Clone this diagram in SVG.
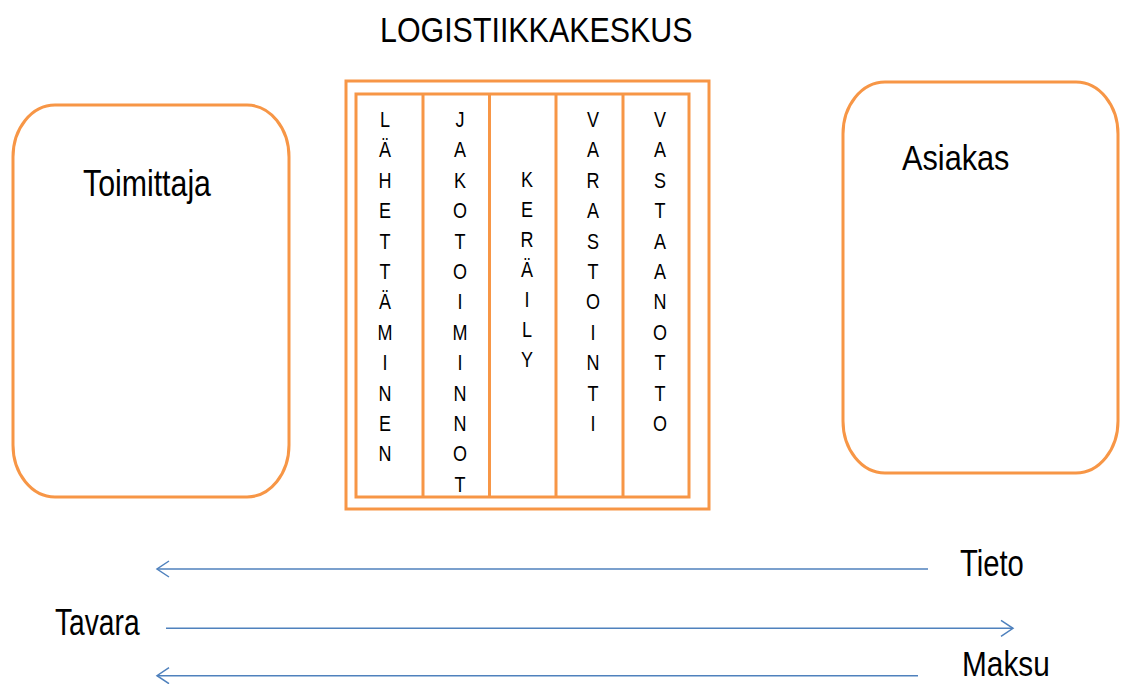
<svg xmlns="http://www.w3.org/2000/svg" width="1122" height="684" viewBox="0 0 1122 684">
<style>
.box{fill:#fff;stroke:#F79646;stroke-width:3}
.ln{fill:none;stroke:#F79646;stroke-width:3}
.t{font-family:"Liberation Sans",Arial,sans-serif;fill:#000}
.v{font-family:"Liberation Sans",Arial,sans-serif;font-size:18px;fill:#000;text-anchor:middle}
.arr{fill:none;stroke:#4F81BD;stroke-width:1.5}
</style>
<defs>
<marker id="ah" markerUnits="userSpaceOnUse" markerWidth="16" markerHeight="20" refX="13" refY="9" orient="auto" viewBox="0 0 16 20">
<path d="M1,1 L13,9 L1,17" fill="none" stroke="#4F81BD" stroke-width="1.5"/>
</marker>
</defs>
<rect width="1122" height="684" fill="#fff"/>
<g id="title"><text class="t" font-size="30.4" transform="translate(380,41.7) scale(1,1.15)">LOGISTIIKKAKESKUS</text></g>
<g id="toimittaja">
<rect class="box" x="13" y="105" width="276" height="392" rx="42" ry="52"/>
<text class="t" font-size="30.3" transform="translate(83,196) scale(1,1.24)">Toimittaja</text>
</g>
<g id="asiakas">
<rect class="box" x="843" y="82" width="275" height="391" rx="42" ry="52"/>
<text class="t" font-size="30.7" transform="translate(902,170) scale(1,1.16)">Asiakas</text>
</g>
<g id="logistiikkakeskus">
<rect class="box" x="346" y="81" width="363" height="428"/>
<rect class="box" x="356" y="94" width="333" height="403"/>
<line class="ln" x1="423" y1="94" x2="423" y2="497"/>
<line class="ln" x1="489.5" y1="94" x2="489.5" y2="497"/>
<line class="ln" x1="556" y1="94" x2="556" y2="497"/>
<line class="ln" x1="623" y1="94" x2="623" y2="497"/>
</g>
<g id="col1">
<text class="v" transform="translate(385,127) scale(1,1.25)">L</text>
<text class="v" transform="translate(385,157.4) scale(1,1.25)">Ä</text>
<text class="v" transform="translate(385,187.8) scale(1,1.25)">H</text>
<text class="v" transform="translate(385,218.2) scale(1,1.25)">E</text>
<text class="v" transform="translate(385,248.6) scale(1,1.25)">T</text>
<text class="v" transform="translate(385,279) scale(1,1.25)">T</text>
<text class="v" transform="translate(385,309.4) scale(1,1.25)">Ä</text>
<text class="v" transform="translate(385,339.8) scale(1,1.25)">M</text>
<text class="v" transform="translate(385,370.2) scale(1,1.25)">I</text>
<text class="v" transform="translate(385,400.6) scale(1,1.25)">N</text>
<text class="v" transform="translate(385,431) scale(1,1.25)">E</text>
<text class="v" transform="translate(385,461.4) scale(1,1.25)">N</text>
</g>
<g id="col2">
<text class="v" transform="translate(460,127) scale(1,1.25)">J</text>
<text class="v" transform="translate(460,157.4) scale(1,1.25)">A</text>
<text class="v" transform="translate(460,187.8) scale(1,1.25)">K</text>
<text class="v" transform="translate(460,218.2) scale(1,1.25)">O</text>
<text class="v" transform="translate(460,248.6) scale(1,1.25)">T</text>
<text class="v" transform="translate(460,279) scale(1,1.25)">O</text>
<text class="v" transform="translate(460,309.4) scale(1,1.25)">I</text>
<text class="v" transform="translate(460,339.8) scale(1,1.25)">M</text>
<text class="v" transform="translate(460,370.2) scale(1,1.25)">I</text>
<text class="v" transform="translate(460,400.6) scale(1,1.25)">N</text>
<text class="v" transform="translate(460,431) scale(1,1.25)">N</text>
<text class="v" transform="translate(460,461.4) scale(1,1.25)">O</text>
<text class="v" transform="translate(460,491.8) scale(1,1.25)">T</text>
</g>
<g id="col3">
<text class="v" transform="translate(527,186.5) scale(1,1.25)">K</text>
<text class="v" transform="translate(527,216.5) scale(1,1.25)">E</text>
<text class="v" transform="translate(527,246.5) scale(1,1.25)">R</text>
<text class="v" transform="translate(527,276.5) scale(1,1.25)">Ä</text>
<text class="v" transform="translate(527,306.5) scale(1,1.25)">I</text>
<text class="v" transform="translate(527,336.5) scale(1,1.25)">L</text>
<text class="v" transform="translate(527,366.5) scale(1,1.25)">Y</text>
</g>
<g id="col4">
<text class="v" transform="translate(593,127) scale(1,1.25)">V</text>
<text class="v" transform="translate(593,157.4) scale(1,1.25)">A</text>
<text class="v" transform="translate(593,187.8) scale(1,1.25)">R</text>
<text class="v" transform="translate(593,218.2) scale(1,1.25)">A</text>
<text class="v" transform="translate(593,248.6) scale(1,1.25)">S</text>
<text class="v" transform="translate(593,279) scale(1,1.25)">T</text>
<text class="v" transform="translate(593,309.4) scale(1,1.25)">O</text>
<text class="v" transform="translate(593,339.8) scale(1,1.25)">I</text>
<text class="v" transform="translate(593,370.2) scale(1,1.25)">N</text>
<text class="v" transform="translate(593,400.6) scale(1,1.25)">T</text>
<text class="v" transform="translate(593,431) scale(1,1.25)">I</text>
</g>
<g id="col5">
<text class="v" transform="translate(660,127) scale(1,1.25)">V</text>
<text class="v" transform="translate(660,157.4) scale(1,1.25)">A</text>
<text class="v" transform="translate(660,187.8) scale(1,1.25)">S</text>
<text class="v" transform="translate(660,218.2) scale(1,1.25)">T</text>
<text class="v" transform="translate(660,248.6) scale(1,1.25)">A</text>
<text class="v" transform="translate(660,279) scale(1,1.25)">A</text>
<text class="v" transform="translate(660,309.4) scale(1,1.25)">N</text>
<text class="v" transform="translate(660,339.8) scale(1,1.25)">O</text>
<text class="v" transform="translate(660,370.2) scale(1,1.25)">T</text>
<text class="v" transform="translate(660,400.6) scale(1,1.25)">T</text>
<text class="v" transform="translate(660,431) scale(1,1.25)">O</text>
</g>
<g id="connectors">
<line class="arr" x1="928" y1="569" x2="157" y2="569" marker-end="url(#ah)"/>
<line class="arr" x1="166" y1="628.3" x2="1013" y2="628.3" marker-end="url(#ah)"/>
<line class="arr" x1="918" y1="675.7" x2="157" y2="675.7" marker-end="url(#ah)"/>
</g>
<g id="labels">
<text class="t" font-size="29.2" transform="translate(960,576) scale(1,1.28)">Tieto</text>
<text class="t" font-size="28.2" transform="translate(55,635) scale(1,1.3)">Tavara</text>
<text class="t" font-size="29.8" transform="translate(962,676) scale(1,1.2)">Maksu</text>
</g>
</svg>
